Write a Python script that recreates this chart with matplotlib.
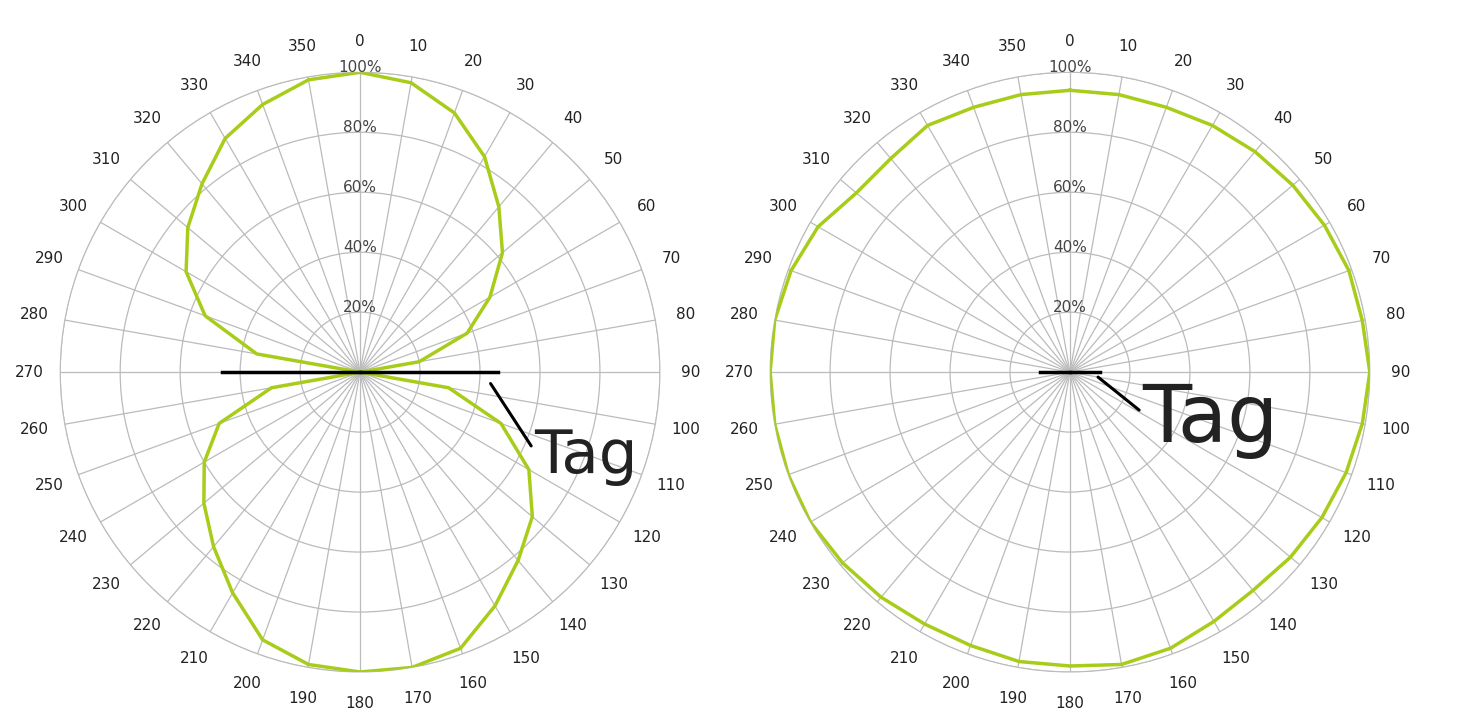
import numpy as np
import matplotlib
matplotlib.use("Agg")
import matplotlib.pyplot as plt

angles_deg = list(range(0, 360, 10))
left_vals = [1.0, 0.98, 0.92, 0.83, 0.72, 0.62, 0.5, 0.38, 0.2, 0.0,
             0.3, 0.5, 0.65, 0.75, 0.82, 0.9, 0.98, 1.0, 1.0, 0.99,
             0.95, 0.85, 0.76, 0.68, 0.6, 0.5, 0.3, 0.0, 0.35, 0.55,
             0.67, 0.75, 0.82, 0.9, 0.95, 0.99]
right_vals = [0.94, 0.94, 0.94, 0.95, 0.96, 0.97, 0.98, 0.99, 0.99, 1.0,
              0.99, 0.98, 0.97, 0.96, 0.95, 0.96, 0.98, 0.99, 0.98, 0.98,
              0.97, 0.97, 0.98, 0.99, 1.0, 1.0, 1.0, 1.0, 1.0, 0.99,
              0.97, 0.93, 0.93, 0.95, 0.94, 0.94]
ring_labels = ["20%", "40%", "60%", "80%", "100%"]
tag_half = [0.46, 0.1]

GREEN = "#a8cc1a"
fig = plt.figure(figsize=(14.79, 7.26), dpi=100)

def draw(rect, vals, half, tag_xy, tag_size):
    ax = fig.add_axes(rect, projection="polar")
    ax.set_theta_zero_location("N")
    ax.set_theta_direction(-1)
    ax.set_ylim(0, 1)
    th = np.deg2rad(angles_deg + [360])
    ax.plot(th, vals + [vals[0]], color=GREEN, lw=2.5, zorder=3)
    ax.set_thetagrids(angles_deg, [str(a) for a in angles_deg], fontsize=11, color="#222222")
    ax.tick_params(axis="x", pad=12)
    ax.set_rgrids([0.2, 0.4, 0.6, 0.8, 1.0], labels=[""] * 5)
    for r, lab in zip([0.2, 0.4, 0.6, 0.8, 1.0], ring_labels):
        ax.text(0, r - 0.01, lab, ha="center", va="bottom", fontsize=11, color="#444444", zorder=4)
    ax.grid(color="#bbbbbb", lw=0.9)
    ax.spines["polar"].set_color("#bbbbbb")
    ax.plot([np.deg2rad(270), np.deg2rad(90)], [half, 0], color="black", lw=2.5, zorder=4)
    ax.plot([np.deg2rad(90), np.deg2rad(90)], [0, half], color="black", lw=2.5, zorder=4)
    ax.annotate("Tag", xy=(np.deg2rad(95 if half > 0.2 else 100), half * 0.95),
                xytext=tag_xy, textcoords="axes fraction", fontsize=tag_size,
                color="#222222", ha="left", va="center",
                arrowprops=dict(arrowstyle="-", color="black", lw=2.2, shrinkA=0, shrinkB=0,
                                relpos=(0, 0.6)))

draw([0.0406, 0.0744, 0.4057, 0.826], left_vals, tag_half[0], (0.79, 0.36), 44)
draw([0.5206, 0.0744, 0.4057, 0.826], right_vals, tag_half[1], (0.62, 0.42), 58)

fig.savefig("out.png", dpi=100, facecolor="white")
